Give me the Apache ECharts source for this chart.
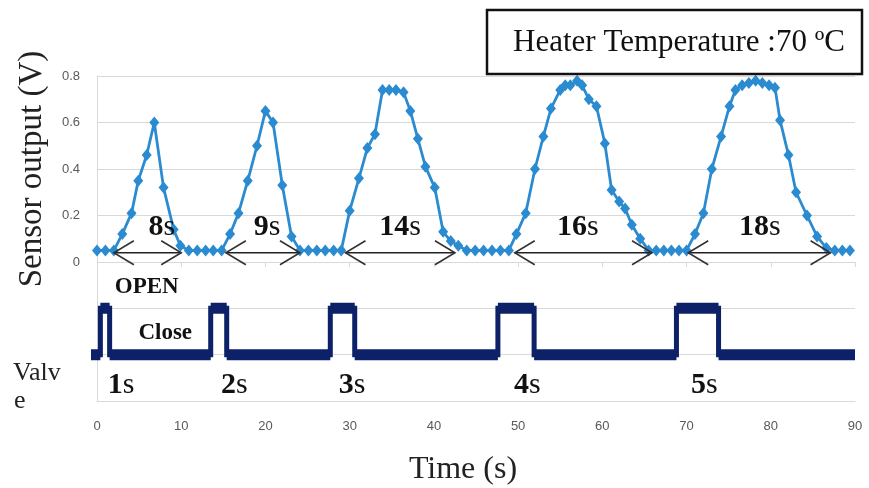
<!DOCTYPE html>
<html><head><meta charset="utf-8">
<script src="https://cdn.jsdelivr.net/npm/echarts/dist/echarts.min.js"></script>
<style>html,body{margin:0;padding:0;background:#fff}#c{width:869px;height:488px}</style>
</head><body><div id="c"></div>
<script>
// ---- data ----
const sensorTime = [0,1,2,3,4.1,4.9,5.9,6.8,7.9,9.1,9.9,10.9,11.9,12.9,13.8,14.8,
  15.8,16.8,17.9,19.0,20.0,20.9,22.0,23.1,24.1,25.1,26.1,27.1,28.1,29.0,
  30.0,31.1,32.1,33.0,33.9,34.7,35.5,36.4,37.2,38.1,39.0,40.1,41.1,42.0,42.9,43.9,44.9,45.9,46.9,47.9,48.9,
  49.8,50.9,52.0,53.0,53.9,55.0,55.6,56.2,57.0,57.6,58.4,59.3,60.3,61.1,62.0,62.7,63.5,64.5,65.5,66.4,67.3,68.2,69.1,70.0,
  71.0,72.0,73.0,74.1,75.1,75.8,76.6,77.4,78.2,79.0,79.8,80.5,81.1,82.1,83.0,84.3,85.5,86.6,87.6,88.5,89.4];
const sensorVolt = [0.05,0.05,0.05,0.12,0.21,0.35,0.46,0.60,0.32,0.14,0.07,0.05,0.05,0.05,0.05,0.05,
  0.12,0.21,0.35,0.50,0.65,0.60,0.33,0.11,0.05,0.05,0.05,0.05,0.05,0.05,
  0.22,0.36,0.49,0.55,0.74,0.74,0.74,0.73,0.65,0.53,0.41,0.32,0.13,0.09,0.07,0.05,0.05,0.05,0.05,0.05,0.05,
  0.12,0.21,0.40,0.54,0.66,0.74,0.76,0.76,0.78,0.76,0.70,0.67,0.51,0.31,0.26,0.23,0.16,0.10,0.05,0.05,0.05,0.05,0.05,0.05,
  0.12,0.21,0.40,0.54,0.67,0.74,0.76,0.77,0.78,0.77,0.76,0.75,0.61,0.46,0.30,0.20,0.11,0.06,0.05,0.05,0.05];

const valveStart = -0.8, valveEnd = 90;
const valveOpenAt  = [0.4, 13.5, 27.7, 47.6, 68.8];
const valveCloseAt = [1.5, 15.4, 30.6, 51.9, 73.8];
const CLOSE_LEVEL = 1, OPEN_LEVEL = 2;

const durArrowStart = [2.0, 15.3, 29.5, 49.6, 70.2];
const durArrowEnd   = [10.0, 24.1, 42.5, 65.9, 87.1];
const durArrowLevel = 0.04;
const durLabels = ['8s','9s','14s','16s','18s'];
const durLabelX = [7.7, 20.2, 36.0, 57.1, 78.7];
const durLabelLevel = 0.15;

const pulseLabels = ['1s','2s','3s','4s','5s'];
const pulseLabelX = [2.85, 16.3, 30.3, 51.1, 72.1];
const pulseLabelLevel = 0.35;
const stateLabels = ['OPEN','Close'];
const stateLabelX = [5.9, 8.1];
const stateLabelY = [2.46, 1.47];

const xMin = 0, xMax = 90, xStep = 10;
const yMin = 0, yMax = 0.8, yStep = 0.2;

// ---- build ----
const sensorData = sensorTime.map((t,i)=>[t, sensorVolt[i]]);
const valveHoriz = [];
const valveVert = [];
let prev = valveStart;
valveOpenAt.forEach((o,i)=>{
  const c = valveCloseAt[i];
  valveHoriz.push([prev, CLOSE_LEVEL],[o, CLOSE_LEVEL],'-',[o, OPEN_LEVEL],[c, OPEN_LEVEL],'-');
  valveVert.push([o, CLOSE_LEVEL],[o, OPEN_LEVEL],'-',[c, OPEN_LEVEL],[c, CLOSE_LEVEL],'-');
  prev = c;
});
valveHoriz.push([prev, CLOSE_LEVEL],[valveEnd, CLOSE_LEVEL]);

const SERIF = "'Liberation Serif','Times New Roman',serif";
const SANS = "'Liberation Sans','Open Sans',sans-serif";
const gridGray = '#d9d9d9';
const TXT = '#111';
const richNum = {
  d:{fontFamily:SERIF,fontWeight:'bold',fontSize:30,fill:TXT},
  u:{fontFamily:SERIF,fontWeight:'normal',fontSize:30,fill:TXT}
};
function numRich(s){ const m = s.match(/^(\d+)(s)$/); return '{d|'+m[1]+'}{u|'+m[2]+'}'; }

function textSeries(xi, yi, xs, ys, texts, styleFn){
  return {type:'custom', xAxisIndex:xi, yAxisIndex:yi, silent:true, z:6, clip:false,
    data: xs.map((x,i)=>[x, Array.isArray(ys)?ys[i]:ys, i]),
    encode:{x:0, y:1},
    renderItem:function(params, api){
      const p = api.coord([api.value(0), api.value(1)]);
      const idx = api.value(2);
      return {type:'text', x:p[0], y:p[1], style:Object.assign({align:'center', verticalAlign:'middle'}, styleFn(texts[idx]))};
    }};
}

const chart = echarts.init(document.getElementById('c'), null, {renderer:'canvas'});
chart.setOption({
  animation:false,
  backgroundColor:'#fff',
  grid:[
    {left:97, right:14, top:76, height:186},
    {left:97, right:14, top:262, height:139}
  ],
  xAxis:[
    {gridIndex:0, type:'value', min:xMin, max:xMax, interval:xStep,
     axisLine:{show:true, lineStyle:{color:gridGray}},
     axisTick:{show:true, length:5, lineStyle:{color:gridGray}},
     axisLabel:{show:false}, splitLine:{show:false}},
    {gridIndex:1, type:'value', min:xMin, max:xMax, interval:xStep,
     axisLine:{show:true, lineStyle:{color:gridGray}},
     axisTick:{show:false},
     axisLabel:{show:true, color:'#595959', fontSize:13, fontFamily:SANS, margin:19},
     splitLine:{show:false},
     name:'Time (s)', nameLocation:'middle', nameGap:53,
     nameTextStyle:{fontFamily:SERIF, fontSize:32, color:'#222', padding:[0,26,0,0]}}
  ],
  yAxis:[
    {gridIndex:0, type:'value', min:yMin, max:yMax, interval:yStep,
     axisLine:{show:true, lineStyle:{color:gridGray}},
     axisTick:{show:false},
     axisLabel:{color:'#595959', fontSize:13, fontFamily:SANS, margin:17},
     splitLine:{show:true, lineStyle:{color:gridGray, width:1}},
     name:'Sensor output (V)', nameLocation:'middle', nameGap:48,
     nameTextStyle:{fontFamily:SERIF, fontSize:33, color:'#222'}},
    {gridIndex:1, type:'value', min:0, max:3, interval:1,
     axisLine:{show:true, lineStyle:{color:gridGray}},
     axisTick:{show:false}, axisLabel:{show:false},
     splitLine:{show:true, lineStyle:{color:gridGray, width:1}}}
  ],
  series:[
    {type:'line', xAxisIndex:0, yAxisIndex:0, data:sensorData, silent:true,
     symbol:'diamond', symbolSize:[10,12], showSymbol:true,
     lineStyle:{color:'#2b8bd1', width:2.8}, itemStyle:{color:'#2b8bd1'}, z:3},
    {type:'line', xAxisIndex:1, yAxisIndex:1, data:valveHoriz, silent:true, clip:false,
     showSymbol:false, symbol:'none', connectNulls:false,
     lineStyle:{color:'#0d2169', width:11, cap:'butt'}, z:3},
    {type:'line', xAxisIndex:1, yAxisIndex:1, data:valveVert, silent:true, clip:false,
     showSymbol:false, symbol:'none', connectNulls:false,
     lineStyle:{color:'#0d2169', width:5, cap:'square'}, z:3},
    {type:'custom', xAxisIndex:0, yAxisIndex:0, silent:true, z:5,
     data: durArrowStart.map((s,i)=>[s, durArrowEnd[i], durArrowLevel]),
     encode:{x:[0,1], y:2},
     renderItem:function(params, api){
       const a = api.coord([api.value(0), api.value(2)]);
       const b = api.coord([api.value(1), api.value(2)]);
       const w = 20, h = 12;
       const st = {stroke:'#333', lineWidth:1.6, fill:null};
       return {type:'group', children:[
         {type:'line', shape:{x1:a[0],y1:a[1],x2:b[0],y2:b[1]}, style:{stroke:'#222',lineWidth:1.6}},
         {type:'polyline', shape:{points:[[a[0]+w,a[1]-h],[a[0],a[1]],[a[0]+w,a[1]+h]]}, style:st},
         {type:'polyline', shape:{points:[[b[0]-w,b[1]-h],[b[0],b[1]],[b[0]-w,b[1]+h]]}, style:st}
       ]};
     }},
    textSeries(0, 0, durLabelX, durLabelLevel, durLabels, s=>({text:numRich(s), rich:richNum, fill:TXT})),
    textSeries(1, 1, pulseLabelX, pulseLabelLevel, pulseLabels, s=>({text:numRich(s), rich:richNum, fill:TXT})),
    textSeries(1, 1, stateLabelX, stateLabelY, stateLabels, s=>({text:s, fill:TXT, font:'bold 23px '+SERIF}))
  ],
  graphic:[
    {type:'rect', z:10, shape:{x:487, y:10, width:375, height:64},
     style:{fill:'#fff', stroke:'#111', lineWidth:2.5}},
    {type:'text', z:11, x:679, y:43,
     style:{text:'Heater Temperature :70 \u00baC', font:'31px '+SERIF, fill:'#111', textAlign:'center', textVerticalAlign:'middle'}},
    {type:'text', z:11, x:13, y:373,
     style:{text:'Valv', font:'26px '+SERIF, fill:'#222', textAlign:'left', textVerticalAlign:'middle'}},
    {type:'text', z:11, x:14, y:401,
     style:{text:'e', font:'26px '+SERIF, fill:'#222', textAlign:'left', textVerticalAlign:'middle'}}
  ]
});
</script>
</body></html>
